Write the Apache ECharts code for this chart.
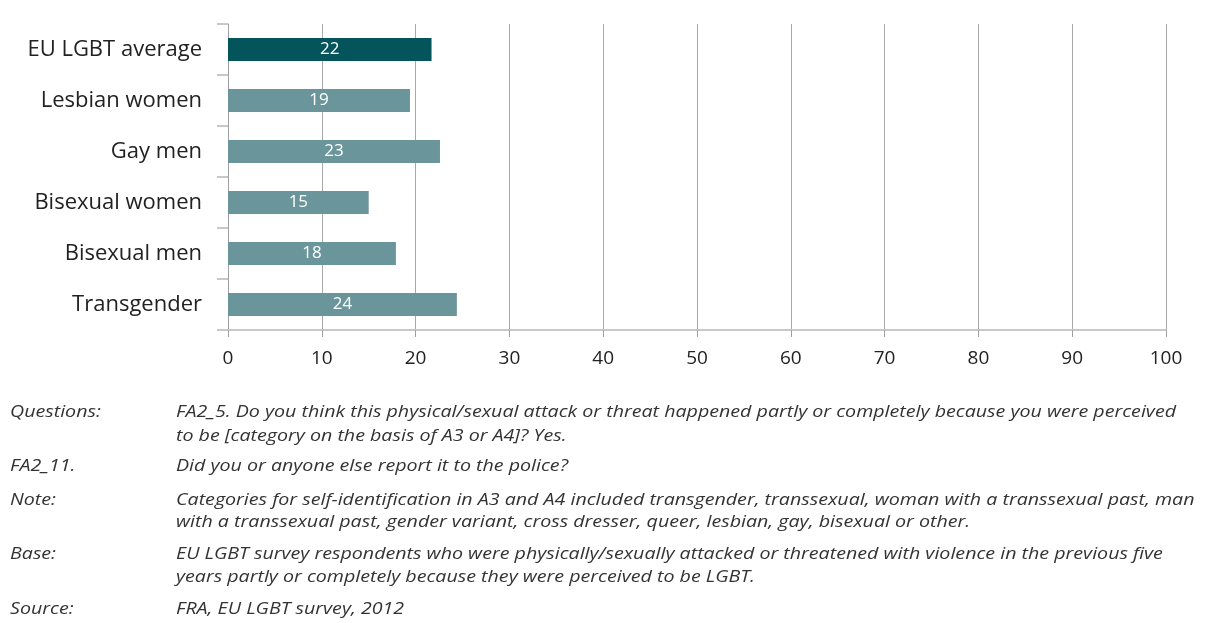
<!DOCTYPE html>
<html><head><meta charset="utf-8">
<script src="https://cdn.jsdelivr.net/npm/echarts@6/dist/echarts.min.js"></script>
<style>html,body{margin:0;padding:0;background:#fff}#c{width:1208px;height:623px}</style>
</head><body><div id="c"></div>
<script>
const categories = ["EU LGBT average", "Lesbian women", "Gay men", "Bisexual women", "Bisexual men", "Transgender"];
const values = [21.7, 19.4, 22.6, 15.0, 17.9, 24.4];
const xTicks = [0, 10, 20, 30, 40, 50, 60, 70, 80, 90, 100];
const notesLabels = ["Questions:", "", "FA2_11.", "Note:", "", "Base:", "", "Source:"];
const notesTexts = [
  "FA2_5. Do you think this physical/sexual attack or threat happened partly or completely because you were perceived",
  "to be [category on the basis of A3 or A4]? Yes.",
  "Did you or anyone else report it to the police?",
  "Categories for self-identification in A3 and A4 included transgender, transsexual, woman with a transsexual past, man",
  "with a transsexual past, gender variant, cross dresser, queer, lesbian, gay, bisexual or other.",
  "EU LGBT survey respondents who were physically/sexually attacked or threatened with violence in the previous five",
  "years partly or completely because they were perceived to be LGBT.",
  "FRA, EU LGBT survey, 2012"
];
const notesY = [412, 436, 466, 500, 522, 554, 577, 609];

const noteFont = 'italic 16px "Open Sans"';
const cv = document.createElement('canvas').getContext('2d');
cv.font = noteFont;
const sx = 1000 / cv.measureText(notesTexts[0]).width;

const chart = echarts.init(document.getElementById('c'), null, {renderer: 'canvas'});
const graphics = [];
notesTexts.forEach((t, i) => {
  if (notesLabels[i]) graphics.push({type: 'text', x: 10, y: notesY[i], scaleX: sx,
    style: {text: notesLabels[i], font: noteFont, fill: '#333', verticalAlign: 'middle'}});
  graphics.push({type: 'text', x: 176, y: notesY[i], scaleX: sx,
    style: {text: t, font: noteFont, fill: '#333', verticalAlign: 'middle'}});
});
chart.setOption({
  animation: false,
  grid: {left: 228, right: 42, top: 24, height: 306, containLabel: false},
  xAxis: {
    type: 'value', min: 0, max: 100, interval: 10,
    axisLine: {show: true, lineStyle: {color: '#c8c8c8', width: 2}},
    axisTick: {show: true, length: 7, lineStyle: {color: '#a0a0a0'}},
    splitLine: {show: true, lineStyle: {color: '#a8a8a8', width: 1}},
    axisLabel: {color: '#222', fontSize: 19, margin: 19, fontFamily: 'Open Sans',
      formatter: v => xTicks.includes(v) ? String(v) : ''}
  },
  yAxis: {
    type: 'category', data: categories, inverse: true,
    axisLine: {show: true, lineStyle: {color: '#a0a0a0', width: 1}},
    axisTick: {show: true, length: 11, lineStyle: {color: '#c8c8c8', width: 2}},
    axisLabel: {color: '#222', fontSize: 22, margin: 26, fontFamily: 'Open Sans'}
  },
  series: [{
    type: 'bar', barWidth: 23,
    data: values.map((v, i) => ({value: v, itemStyle: {color: i === 0 ? '#04545c' : '#6a969b'}})),
    label: {show: true, position: 'inside', color: '#fff', fontSize: 17, fontFamily: 'Open Sans',
      formatter: p => Math.round(p.value)}
  }],
  graphic: graphics
});
</script></body></html>
